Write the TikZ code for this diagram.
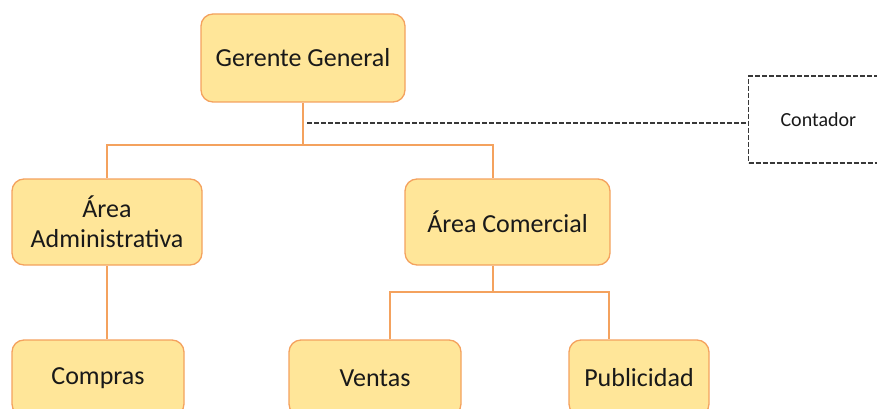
\documentclass[tikz,border=0pt]{standalone}
\usepackage{fontspec}
\setmainfont{Carlito}
\definecolor{boxfill}{HTML}{FFE699}
\definecolor{boxline}{HTML}{F4A25E}
\definecolor{dashc}{HTML}{383838}
\tikzset{
  unit/.style={draw=boxline, fill=boxfill, line width=1.3pt, rounded corners=12pt,
    inner sep=0pt, align=center, font=\fontsize{26}{30}\selectfont, text=black!90},
  link/.style={draw=boxline, line width=1.3pt},
  dlink/.style={draw=dashc, line width=1.1pt, dash pattern=on 5pt off 2pt},
}
\begin{document}
\begin{tikzpicture}[x=1pt,y=-1pt]
\useasboundingbox (0,0) rectangle (877,409);
\clip (0,0) rectangle (877,409);
\node[unit, minimum width=204pt, minimum height=88pt] (ger) at (303,58) {Gerente General};
\node[unit, minimum width=190pt, minimum height=86pt] (adm) at (107,222) {Área\\Administrativa};
\node[unit, minimum width=205pt, minimum height=86pt] (com) at (507.5,222) {Área Comercial};
\node[unit, minimum width=172pt, minimum height=76pt] (cmp) at (98,378) {Compras};
\node[unit, minimum width=172pt, minimum height=76pt] (ven) at (375,378) {Ventas};
\node[unit, minimum width=140pt, minimum height=76pt] (pub) at (639,378) {Publicidad};
\node[dlink, draw, anchor=west, minimum height=87pt, text width=150pt, inner xsep=32pt, align=left,
  font=\fontsize{20}{24}\selectfont, text=black!90] (cont) at (748,119.5) {Contador};
\coordinate (j1) at (303,145);
\coordinate (j2) at (493,292);
\coordinate (d0) at (307,123);
\draw[link] (ger.south) -- (j1);
\draw[link] (j1) -| (adm.north);
\draw[link] (j1) -| ([xshift=-14.5pt]com.north);
\draw[link] ([xshift=-14.5pt]com.south) -- (j2);
\draw[link] (j2) -| ([xshift=15pt]ven.north);
\draw[link] (j2) -| ([xshift=-30pt]pub.north);
\draw[link] (adm.south) -- (adm.south |- cmp.north);
\draw[dlink] (d0) -- (d0 -| cont.west);
\end{tikzpicture}
\end{document}
